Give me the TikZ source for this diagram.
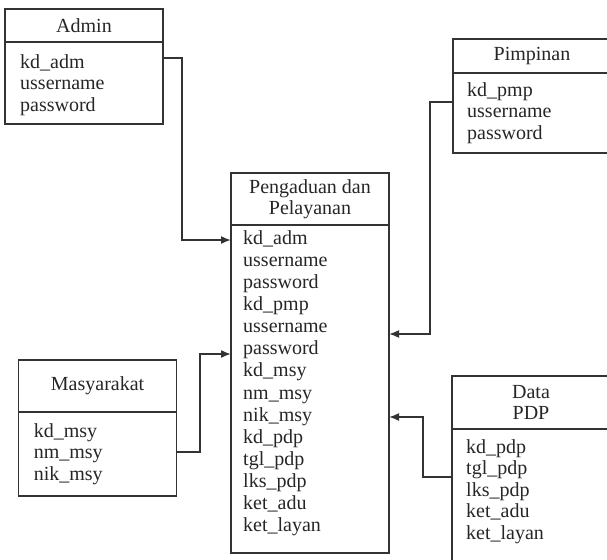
\documentclass[tikz,border=0pt]{standalone}
\usepackage{fontspec}
\setmainfont{Liberation Serif}
\usetikzlibrary{arrows.meta,positioning}

\begin{document}
\begin{tikzpicture}[x=1pt,y=-1pt,>={Latex[length=10pt,width=8pt]},
                    font=\fontsize{20}{21.5}\selectfont]
  \tikzstyle{entity}=[rectangle,draw=black!80,line width=1.6pt,outer sep=0pt,
                      minimum width=158pt,inner sep=0pt,anchor=north west,
                      text=black!85,align=center]
  \tikzstyle{fields}=[inner sep=0pt,anchor=north west,align=left,text=black!85]
  \tikzstyle{link}=[->,draw=black!80,line width=1.6pt]
  \useasboundingbox (0,0) rectangle (607,559);

  \node [entity,minimum height=33pt] (adm) at (5,9) {Admin};
  \node [entity,minimum height=82pt,below=0pt of adm] (adm-b) {};
  \node [fields] (adm-f) at ([shift={(15pt,-12.3pt)}]adm-b.north west)
    {kd\_adm\\ussername\\password};

  \node [entity,minimum height=34pt] (pmp) at (453,39) {Pimpinan};
  \node [entity,minimum height=80pt,below=0pt of pmp] (pmp-b) {};
  \node [fields] (pmp-f) at ([shift={(14pt,-9.3pt)}]pmp-b.north west)
    {kd\_pmp\\ussername\\password};

  \node [entity,minimum height=52pt] (pp) at (231,173) {Pengaduan dan\\Pelayanan};
  \node [entity,minimum height=328pt,below=0pt of pp] (pp-b) {};
  \node [fields,font=\fontsize{20}{22.1}\selectfont] (pp-f)
    at ([shift={(12pt,-5.3pt)}]pp-b.north west)
    {kd\_adm\\ussername\\password\\kd\_pmp\\ussername\\password\\kd\_msy\\
     nm\_msy\\nik\_msy\\kd\_pdp\\tgl\_pdp\\lks\_pdp\\ket\_adu\\ket\_layan};

  \node [entity,minimum height=52pt] (msy) at (18.6,360) {Masyarakat};
  \node [entity,minimum height=84pt,below=0pt of msy] (msy-b) {};
  \node [fields] (msy-f) at ([shift={(15pt,-11.3pt)}]msy-b.north west)
    {kd\_msy\\nm\_msy\\nik\_msy};

  \node [entity,minimum height=53pt] (pdp) at (452,376) {Data\\PDP};
  \node [entity,minimum height=140pt,below=0pt of pdp] (pdp-b) {};
  \node [fields] (pdp-f) at ([shift={(14pt,-10.3pt)}]pdp-b.north west)
    {kd\_pdp\\tgl\_pdp\\lks\_pdp\\ket\_adu\\ket\_layan};

  \draw [link] ([yshift=-16pt]adm-b.north east) -- ++(19,0)
    |- ([yshift=-15pt]pp-b.north west);
  \draw [link] ([yshift=-29pt]pmp-b.north west) -- ++(-23,0)
    |- ([yshift=-109pt]pp-b.north east);
  \draw [link] ([yshift=-40pt]msy-b.north east) -- ++(23.5,0)
    |- ([yshift=-129pt]pp-b.north west);
  \draw [link] ([yshift=-48pt]pdp-b.north west) -- ++(-29,0)
    |- ([yshift=-192pt]pp-b.north east);
\end{tikzpicture}
\end{document}
